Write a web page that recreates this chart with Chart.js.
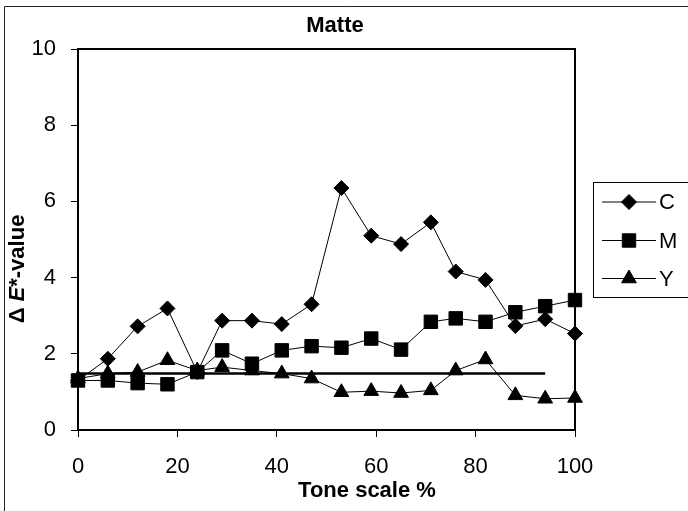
<!DOCTYPE html>
<html>
<head>
<meta charset="utf-8">
<script src="https://cdn.jsdelivr.net/npm/chart.js@4/dist/chart.umd.min.js"></script>
<style>
  html, body { margin: 0; padding: 0; background: #fff; }
  canvas { display: block; }
</style>
</head>
<body>
<canvas id="myChart" width="688" height="511"></canvas>
<script>
// tone scale positions (%)
var tone = [0, 6, 12, 18, 24, 29, 35, 41, 47, 53, 59, 65, 71, 76, 82, 88, 94, 100];
// delta E* values
var cData = [1.30, 1.87, 2.72, 3.19, 1.52, 2.87, 2.87, 2.78, 3.30, 6.35, 5.10, 4.88, 5.45, 4.16, 3.94, 2.73, 2.91, 2.53];
var mData = [1.30, 1.30, 1.23, 1.20, 1.52, 2.09, 1.74, 2.09, 2.20, 2.16, 2.40, 2.11, 2.84, 2.93, 2.84, 3.09, 3.25, 3.41];
var yData = [1.35, 1.48, 1.52, 1.83, 1.56, 1.65, 1.56, 1.48, 1.35, 0.99, 1.02, 0.97, 1.04, 1.56, 1.85, 0.91, 0.82, 0.84];
// horizontal reference line
var refX = [0, 94];
var refY = [1.48, 1.48];

var xTicks = [0, 20, 40, 60, 80, 100];
var yTicks = [0, 2, 4, 6, 8, 10];

function pts(xs, ys) {
  var out = [];
  for (var i = 0; i < xs.length; i++) out.push({x: xs[i], y: ys[i]});
  return out;
}

var FONT = "'Liberation Sans', Arial, sans-serif";

// frame round the plot area, outer frame, legend and titles
var extras = {
  id: 'extras',
  beforeDatasetsDraw: function (chart) {
    var ctx = chart.ctx, a = chart.chartArea;
    ctx.save();
    ctx.strokeStyle = '#000';
    ctx.lineWidth = 2;
    ctx.strokeRect(a.left, a.top, a.right - a.left, a.bottom - a.top);
    ctx.restore();
  },
  afterDraw: function (chart) {
    var ctx = chart.ctx;
    ctx.save();
    // outer frame
    ctx.strokeStyle = '#222';
    ctx.lineWidth = 1;
    ctx.beginPath();
    ctx.moveTo(4.5, 511);
    ctx.lineTo(4.5, 6.5);
    ctx.lineTo(688, 6.5);
    ctx.stroke();

    // legend
    ctx.strokeStyle = '#000';
    ctx.strokeRect(593.5, 182.5, 96, 115);
    var rows = [202, 240.5, 278.5];
    for (var i = 0; i < 3; i++) {
      var ds = chart.data.datasets[i];
      ctx.lineWidth = 1;
      ctx.beginPath();
      ctx.moveTo(602, rows[i]);
      ctx.lineTo(656, rows[i]);
      ctx.stroke();
      ctx.fillStyle = '#000';
      Chart.helpers.drawPoint(ctx, {pointStyle: ds.pointStyle, radius: ds.pointRadius, borderWidth: 1, rotation: 0}, 629, rows[i]);
      ctx.font = '22px ' + FONT;
      ctx.textBaseline = 'middle';
      ctx.textAlign = 'left';
      ctx.fillText(ds.label, 659, rows[i] + 1);
    }

    // chart title and x axis title
    ctx.fillStyle = '#000';
    ctx.textAlign = 'center';
    ctx.textBaseline = 'middle';
    ctx.font = 'bold 22px ' + FONT;
    ctx.fillText('Matte', 335, 26);
    ctx.fillText('Tone scale %', 367, 491);

    // y axis title with italic E
    ctx.translate(18, 269);
    ctx.rotate(-Math.PI / 2);
    ctx.textAlign = 'left';
    var parts = [['bold 22px ' + FONT, '\u0394 '], ['italic bold 22px ' + FONT, 'E'], ['bold 22px ' + FONT, '*-value']];
    var total = 0;
    parts.forEach(function (p) { ctx.font = p[0]; total += ctx.measureText(p[1]).width; });
    var x = -total / 2;
    parts.forEach(function (p) {
      ctx.font = p[0];
      ctx.fillText(p[1], x, 0);
      x += ctx.measureText(p[1]).width;
    });
    ctx.restore();
  }
};

var ctx = document.getElementById('myChart').getContext('2d');
var chart = new Chart(ctx, {
  type: 'line',
  data: {
    datasets: [
      {label: 'C', data: pts(tone, cData), pointStyle: 'rectRot', pointRadius: 7.5},
      {label: 'M', data: pts(tone, mData), pointStyle: 'rect', pointRadius: 9.5},
      {label: 'Y', data: pts(tone, yData), pointStyle: 'triangle', pointRadius: 8.5},
      {label: 'ref', data: pts(refX, refY), pointRadius: 0, borderWidth: 2.5}
    ].map(function (d) {
      d.borderColor = '#000';
      d.backgroundColor = '#000';
      d.pointBackgroundColor = '#000';
      d.pointBorderColor = '#000';
      if (d.borderWidth === undefined) d.borderWidth = 1;
      d.pointBorderWidth = 1;
      d.pointHoverRadius = d.pointRadius;
      d.tension = 0;
      d.clip = false;
      return d;
    })
  },
  options: {
    responsive: false,
    animation: false,
    devicePixelRatio: 1,
    layout: {padding: {left: 8, right: 113, top: 49, bottom: 0}},
    plugins: {
      legend: {display: false},
      tooltip: {enabled: false},
      title: {display: false}
    },
    scales: {
      x: {
        type: 'linear',
        min: 0, max: 100,
        afterFit: function (s) { s.height = 81; },
        afterBuildTicks: function (s) { s.ticks = xTicks.map(function (v) { return {value: v}; }); },
        border: {display: true, color: '#000', width: 2},
        grid: {drawOnChartArea: false, drawTicks: true, tickLength: 7, color: '#000'},
        ticks: {color: '#000', padding: 17, maxRotation: 0, font: {family: FONT, size: 22}}
      },
      y: {
        min: 0, max: 10,
        afterFit: function (s) { s.width = 70; },
        afterBuildTicks: function (s) { s.ticks = yTicks.map(function (v) { return {value: v}; }); },
        border: {display: true, color: '#000', width: 2},
        grid: {drawOnChartArea: false, drawTicks: true, tickLength: 7, color: '#000'},
        ticks: {color: '#000', padding: 15, font: {family: FONT, size: 22}}
      }
    }
  },
  plugins: [extras]
});
</script>
</body>
</html>
